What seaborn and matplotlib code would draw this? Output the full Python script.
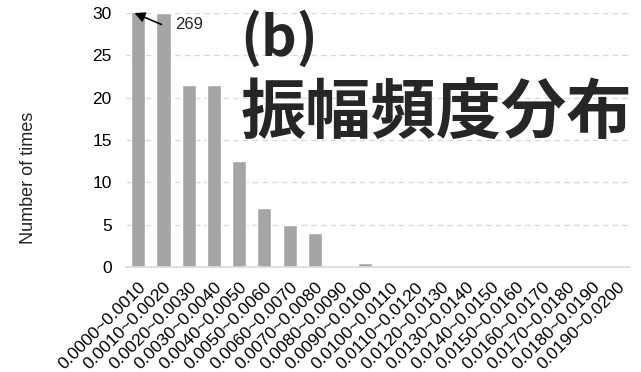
import matplotlib
matplotlib.use("Agg")
import matplotlib.pyplot as plt
import seaborn as sns
import pandas as pd

# Amplitude bins and how many times each occurred
bin_labels = [
    "0.0000~0.0010", "0.0010~0.0020", "0.0020~0.0030", "0.0030~0.0040",
    "0.0040~0.0050", "0.0050~0.0060", "0.0060~0.0070", "0.0070~0.0080",
    "0.0080~0.0090", "0.0090~0.0100", "0.0100~0.0110", "0.0110~0.0120",
    "0.0120~0.0130", "0.0130~0.0140", "0.0140~0.0150", "0.0150~0.0160",
    "0.0160~0.0170", "0.0170~0.0180", "0.0180~0.0190", "0.0190~0.0200",
]
counts = [269, 30, 21.5, 21.5, 12.5, 7, 5, 4, 0, 0.5,
          0, 0, 0, 0, 0, 0, 0, 0, 0, 0]
y_ticks = [0, 5, 10, 15, 20, 25, 30]
y_max = 30

sns.set_theme(style="white")
plt.rcParams["font.family"] = ["Liberation Sans", "DejaVu Sans"]

df = pd.DataFrame({"bin": bin_labels, "count": counts})

fig = plt.figure(figsize=(6.41, 3.72), dpi=100)
ax = fig.add_axes([0.196, 0.282, 0.787, 0.683])

sns.barplot(data=df, x="bin", y="count", color="#A5A5A5", width=0.56,
            saturation=1, ax=ax, zorder=2)

ax.set_ylim(0, y_max)
ax.set_xlim(-0.5, len(bin_labels) - 0.5)
ax.set_yticks(y_ticks)
ax.yaxis.grid(True, linestyle=(0, (4, 3)), color="#D9D9D9", linewidth=1, zorder=0)
ax.set_axisbelow(True)

for side in ("left", "right", "top"):
    ax.spines[side].set_visible(False)
ax.spines["bottom"].set_color("#D9D9D9")
ax.spines["bottom"].set_linewidth(1.2)

ax.tick_params(axis="y", length=0, labelsize=12.5, colors="#000000", pad=10)
ax.tick_params(axis="x", length=0, labelsize=12.5, colors="#000000", pad=9)
plt.setp(ax.get_xticklabels(), rotation=45, ha="right", rotation_mode="anchor")

ax.set_xlabel("")
ax.set_ylabel("Number of times", fontsize=13)
ax.yaxis.set_label_coords(-0.176, 0.352)

# Off-scale first bar: mark its true value
ax.annotate("", xy=(-0.15, y_max), xytext=(0.92, 28.65),
            arrowprops=dict(arrowstyle="-|>", color="black", lw=1.2,
                            shrinkA=0, shrinkB=0, mutation_scale=15),
            annotation_clip=False)
ax.text(1.45, 28.6, str(counts[0]), fontsize=12, va="center", ha="left")

cjk = ["Noto Sans CJK JP", "DejaVu Sans"]
fig.text(0.375, 0.895, "(b)", fontsize=40, fontweight="bold",
         family=cjk, color="#262626", va="center", ha="left")
fig.text(0.375, 0.693, "振幅頻度分布", fontsize=47, fontweight="bold",
         family=cjk, color="#262626", va="center", ha="left")

fig.savefig("out.png", dpi=100)
